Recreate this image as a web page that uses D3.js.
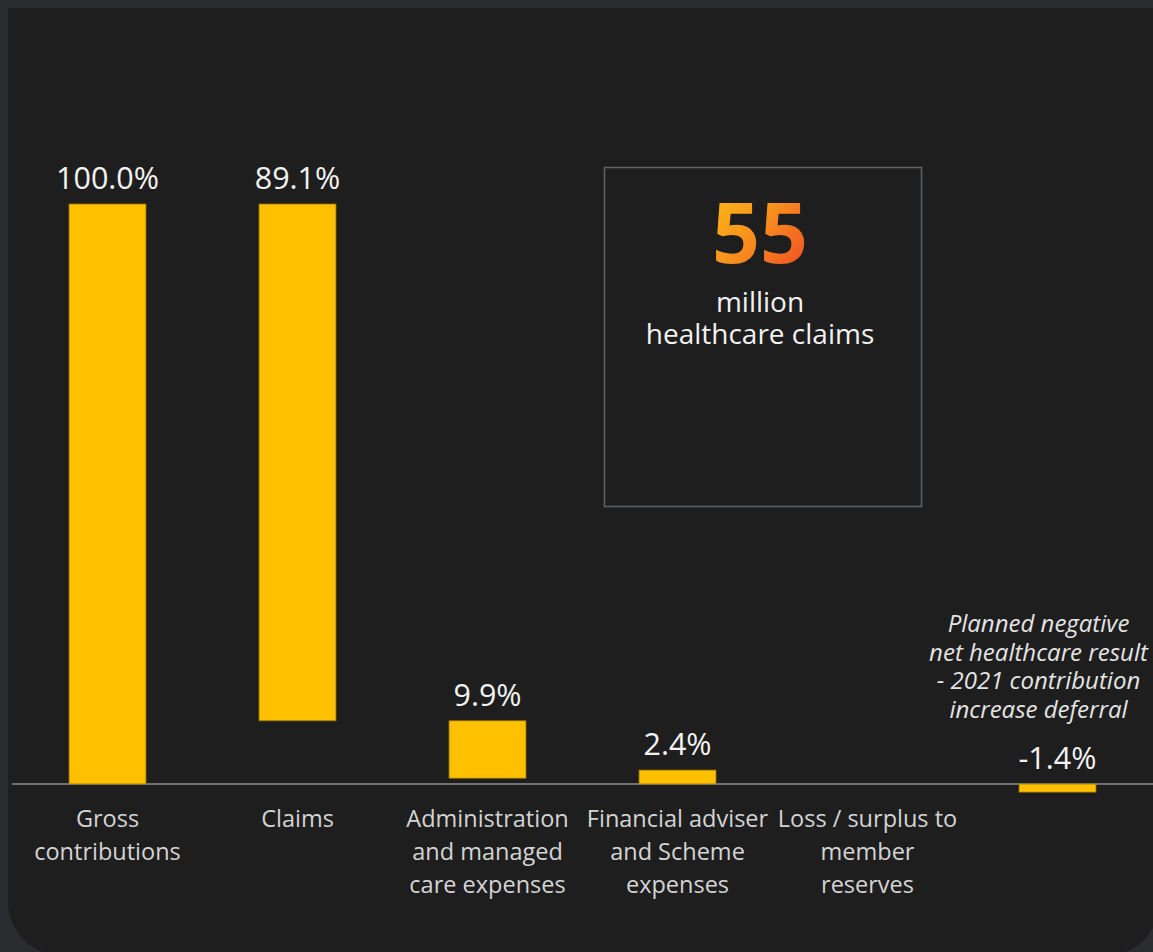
<!DOCTYPE html>
<html>
<head>
<meta charset="utf-8">
<script src="https://cdn.jsdelivr.net/npm/d3@7"></script>
<style>
  html, body { margin: 0; padding: 0; background: #2b2c2f; }
  svg { display: block; }
</style>
</head>
<body>
<svg id="chart" width="1153" height="952"></svg>
<script>
// Waterfall steps: where each bar starts and ends, in % of gross contributions
const categories = ["Gross contributions", "Claims", "Administration and managed care expenses",
                    "Financial adviser and Scheme expenses", "Loss / surplus to member reserves", "Result"];
const categoryLines = [
  ["Gross", "contributions"],
  ["Claims"],
  ["Administration", "and managed", "care expenses"],
  ["Financial adviser", "and Scheme", "expenses"],
  ["Loss / surplus to", "member", "reserves"],
  []
];
const values = [100.0, 89.1, 9.9, 2.4, null, -1.4];
const bases  = [0, 10.9, 1.0, 0, null, 0];
const descending = [false, true, true, false, false, false];
const valueLabels = ["100.0%", "89.1%", "9.9%", "2.4%", null, "-1.4%"];
const noteLines = ["Planned negative", "net healthcare result", "- 2021 contribution", "increase deferral"];
const calloutNumber = "55";
const calloutLines = ["million", "healthcare claims"];

const svg = d3.select("#chart");
const FONT = "'Open Sans', 'Noto Sans', sans-serif";

// panel: square top corners, rounded bottom corners
const px0 = 8, py0 = 8, px1 = 1160, py1 = 956, r = 55;
svg.append("path")
  .attr("d", `M${px0},${py0} H${px1} V${py1 - r} A${r},${r} 0 0 1 ${px1 - r},${py1} H${px0 + r} A${r},${r} 0 0 1 ${px0},${py1 - r} Z`)
  .attr("fill", "#1e1e1e");

const x = d3.scaleBand().domain(categories).range([12.5, 1152.5]).paddingInner(0.595).paddingOuter(0.2975);
const y = d3.scaleLinear().domain([0, 100]).range([784, 204]);

const rows = categories.map((c, i) => {
  const v = values[i], b = bases[i];
  let lo = null, hi = null;
  if (v !== null) {
    if (descending[i]) { lo = b; hi = b + v; }
    else if (v >= 0) { lo = b; hi = b + v; }
    else { lo = b + v; hi = b; }
  }
  return { c, i, v, lo, hi, label: valueLabels[i] };
});

// zero line
svg.append("line")
  .attr("x1", 12).attr("x2", 1153)
  .attr("y1", y(0)).attr("y2", y(0))
  .attr("stroke", "#6f7173").attr("stroke-width", 2);

// bars
svg.append("g").selectAll("rect")
  .data(rows.filter(d => d.v !== null))
  .join("rect")
  .attr("x", d => x(d.c))
  .attr("width", x.bandwidth())
  .attr("y", d => y(d.hi))
  .attr("height", d => y(d.lo) - y(d.hi))
  .attr("fill", "#ffc000")
  .attr("stroke", "#9a7608").attr("stroke-width", 0.8);

// value labels
svg.append("g").selectAll("text")
  .data(rows.filter(d => d.label))
  .join("text")
  .attr("x", d => x(d.c) + x.bandwidth() / 2)
  .attr("y", d => y(d.hi) - 15)
  .attr("text-anchor", "middle")
  .attr("font-family", FONT).attr("font-size", 30.5)
  .attr("fill", "#f2f2f2")
  .text(d => d.label);

// category labels
const cat = svg.append("g");
rows.forEach(d => {
  categoryLines[d.i].forEach((line, k) => {
    cat.append("text")
      .attr("x", x(d.c) + x.bandwidth() / 2)
      .attr("y", 827 + k * 33)
      .attr("text-anchor", "middle")
      .attr("font-family", FONT).attr("font-size", 23.5)
      .attr("fill", "#d4d4d4")
      .text(line);
  });
});

// note above the final bar
const last = rows[5];
noteLines.forEach((line, k) => {
  svg.append("text")
    .attr("x", x(last.c) + x.bandwidth() / 2 - 19)
    .attr("y", 632 + k * 28.5)
    .attr("text-anchor", "middle")
    .attr("font-family", FONT).attr("font-size", 24).attr("font-style", "italic")
    .attr("fill", "#e4e4e4")
    .text(line);
});

// callout box
const defs = svg.append("defs");
const grad = defs.append("linearGradient").attr("id", "numGrad")
  .attr("x1", "0%").attr("y1", "0%").attr("x2", "100%").attr("y2", "100%");
grad.append("stop").attr("offset", "0%").attr("stop-color", "#ffc014");
grad.append("stop").attr("offset", "45%").attr("stop-color", "#f9931d");
grad.append("stop").attr("offset", "100%").attr("stop-color", "#ee4027");

svg.append("rect")
  .attr("x", 604.5).attr("y", 167.5).attr("width", 317).attr("height", 339)
  .attr("fill", "none").attr("stroke", "#5c6062").attr("stroke-width", 1.6);

svg.append("text")
  .attr("x", 760).attr("y", 263)
  .attr("text-anchor", "middle")
  .attr("font-family", FONT).attr("font-size", 84).attr("font-weight", 700)
  .attr("fill", "url(#numGrad)")
  .text(calloutNumber);

calloutLines.forEach((line, k) => {
  svg.append("text")
    .attr("x", 760).attr("y", 312 + k * 32)
    .attr("text-anchor", "middle")
    .attr("font-family", FONT).attr("font-size", 28)
    .attr("fill", "#f2f2f2")
    .text(line);
});
</script>
</body>
</html>
